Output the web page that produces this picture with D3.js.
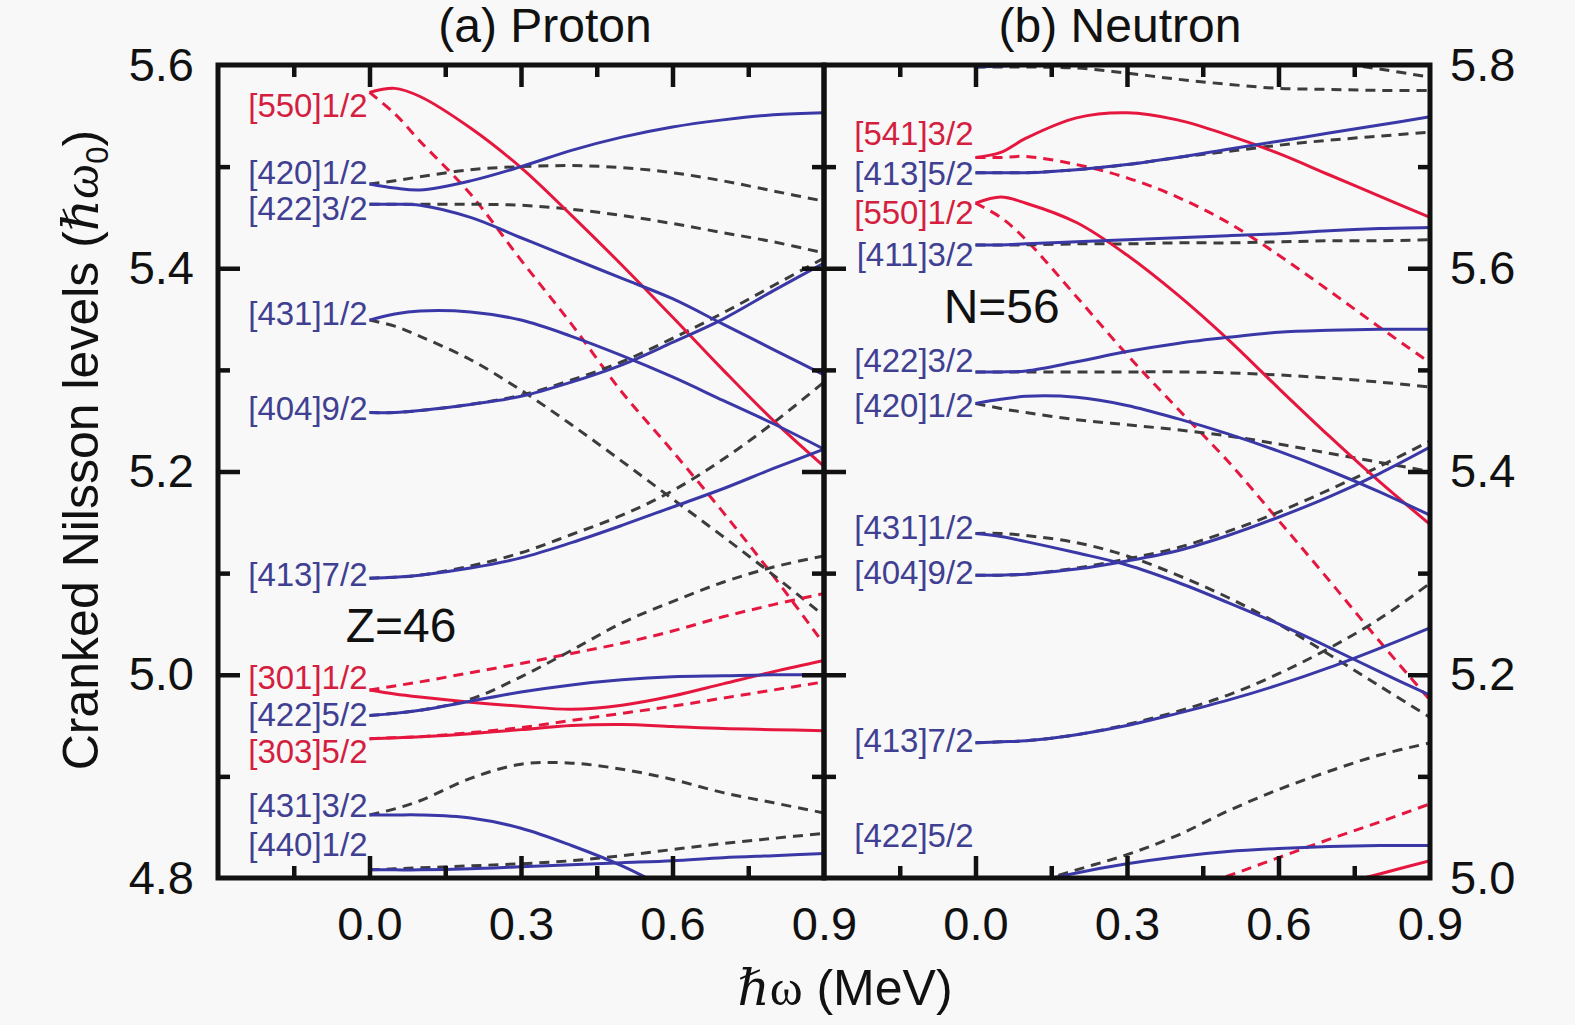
<!DOCTYPE html>
<html>
<head>
<meta charset="utf-8">
<script src="https://cdn.jsdelivr.net/npm/d3@7"></script>
<style>
  body { margin: 0; background: #f8f8f8; }
  svg { display: block; font-family: "Liberation Sans", Arial, sans-serif; }
</style>
</head>
<body>
<svg id="chart" width="1575" height="1025"></svg>
<script>
// rotational frequency grid (MeV)
const omega = [0, 0.05, 0.1, 0.2, 0.3, 0.4, 0.5, 0.6, 0.7, 0.8, 0.9];
const xTickLabels = [0, 0.3, 0.6, 0.9];
const protonYTicks = [4.8, 5.0, 5.2, 5.4, 5.6];
const neutronYTicks = [5.0, 5.2, 5.4, 5.6, 5.8];

// proton levels (a)
const protonLabels = ["[550]1/2", "[420]1/2", "[422]3/2", "[431]1/2", "[404]9/2", "[413]7/2",
                      "[301]1/2", "[422]5/2", "[303]5/2", "[431]3/2", "[440]1/2"];
const protonParity = ["-", "+", "+", "+", "+", "+", "-", "+", "-", "+", "+"];
const protonLabelE = [5.561, 5.495, 5.459, 5.356, 5.262, 5.099, 4.998, 4.961, 4.925, 4.872, 4.833];
const protonSolid = [
  [5.573, 5.577, 5.569, 5.538, 5.499, 5.452, 5.403, 5.352, 5.300, 5.250, 5.205],
  [5.483, 5.479, 5.477, 5.486, 5.500, 5.516, 5.529, 5.539, 5.546, 5.551, 5.553],
  [5.463, 5.463, 5.462, 5.450, 5.430, 5.410, 5.390, 5.370, 5.345, 5.320, 5.295],
  [5.349, 5.355, 5.358, 5.357, 5.349, 5.333, 5.314, 5.293, 5.270, 5.247, 5.222],
  [5.258, 5.258, 5.260, 5.266, 5.274, 5.288, 5.305, 5.327, 5.350, 5.378, 5.405],
  [5.095, 5.096, 5.098, 5.105, 5.115, 5.130, 5.147, 5.165, 5.183, 5.203, 5.222],
  [4.985, 4.981, 4.978, 4.973, 4.969, 4.966, 4.970, 4.979, 4.991, 5.003, 5.014],
  [4.960, 4.962, 4.965, 4.974, 4.983, 4.990, 4.995, 4.998, 4.999, 5.000, 5.000],
  [4.937, 4.938, 4.939, 4.942, 4.946, 4.950, 4.951, 4.949, 4.947, 4.946, 4.945],
  [4.862, 4.862, 4.862, 4.859, 4.849, 4.832, 4.812, 4.787, 4.760, 4.730, 4.700],
  [4.808, 4.808, 4.808, 4.809, 4.811, 4.813, 4.815, 4.817, 4.820, 4.822, 4.824]
];
const protonDashed = [
  [5.573, 5.552, 5.525, 5.473, 5.408, 5.345, 5.278, 5.220, 5.160, 5.097, 5.030],
  [5.483, 5.486, 5.490, 5.497, 5.500, 5.501, 5.499, 5.494, 5.486, 5.476, 5.466],
  [5.463, 5.463, 5.463, 5.463, 5.462, 5.458, 5.452, 5.444, 5.435, 5.426, 5.415],
  [5.349, 5.343, 5.333, 5.310, 5.280, 5.246, 5.210, 5.173, 5.136, 5.098, 5.058],
  [5.258, 5.258, 5.260, 5.266, 5.275, 5.290, 5.308, 5.331, 5.356, 5.383, 5.410],
  [5.095, 5.096, 5.098, 5.107, 5.120, 5.138, 5.157, 5.181, 5.212, 5.248, 5.288],
  [4.985, 4.989, 4.993, 5.002, 5.011, 5.021, 5.031, 5.043, 5.057, 5.069, 5.080],
  [4.960, 4.962, 4.965, 4.976, 4.998, 5.024, 5.051, 5.072, 5.091, 5.106, 5.117],
  [4.937, 4.938, 4.939, 4.943, 4.948, 4.955, 4.962, 4.969, 4.977, 4.985, 4.993],
  [4.862, 4.868, 4.876, 4.898, 4.912, 4.913, 4.907, 4.897, 4.884, 4.874, 4.864],
  [4.808, 4.809, 4.810, 4.812, 4.814, 4.817, 4.822, 4.828, 4.834, 4.839, 4.844]
];

// neutron levels (b)
const neutronLabels = ["", "", "[541]3/2", "[413]5/2", "[550]1/2", "[411]3/2", "[422]3/2",
                       "[420]1/2", "[431]1/2", "[404]9/2", "[413]7/2", "[422]5/2", ""];
const neutronParity = ["+", "+", "-", "+", "-", "+", "+", "+", "+", "+", "+", "+", "-"];
const neutronLabelE = [null, null, 5.733, 5.694, 5.655, 5.614, 5.510, 5.465, 5.345, 5.301, 5.136, 5.042, null];
const neutronSolid = [
  [5.798, 5.799, 5.800, 5.805, null, null, null, null, null, null, null],
  [null, null, null, null, null, null, null, null, null, null, null],
  [5.709, 5.714, 5.728, 5.748, 5.753, 5.746, 5.731, 5.713, 5.692, 5.671, 5.650],
  [5.694, 5.694, 5.694, 5.697, 5.702, 5.709, 5.717, 5.725, 5.733, 5.741, 5.749],
  [5.664, 5.670, 5.664, 5.645, 5.613, 5.574, 5.530, 5.482, 5.435, 5.390, 5.348],
  [5.623, 5.623, 5.624, 5.626, 5.628, 5.630, 5.632, 5.634, 5.637, 5.639, 5.640],
  [5.498, 5.498, 5.499, 5.508, 5.518, 5.526, 5.532, 5.537, 5.539, 5.540, 5.540],
  [5.467, 5.471, 5.474, 5.473, 5.465, 5.452, 5.437, 5.420, 5.401, 5.380, 5.357],
  [5.339, 5.336, 5.331, 5.320, 5.308, 5.291, 5.271, 5.250, 5.227, 5.203, 5.180],
  [5.298, 5.298, 5.299, 5.304, 5.312, 5.322, 5.337, 5.355, 5.375, 5.398, 5.424],
  [5.133, 5.134, 5.135, 5.141, 5.150, 5.162, 5.175, 5.190, 5.207, 5.226, 5.246],
  [4.985, 4.988, 4.994, 5.005, 5.014, 5.021, 5.026, 5.029, 5.031, 5.032, 5.032],
  [null, null, null, null, null, null, null, null, 4.991, 5.004, 5.017]
];
const neutronDashed = [
  [5.798, 5.798, 5.798, 5.797, 5.792, 5.786, 5.781, 5.777, 5.776, 5.775, 5.775],
  [null, null, null, null, null, null, null, null, 5.803, 5.796, 5.788],
  [5.709, 5.709, 5.710, 5.702, 5.689, 5.670, 5.645, 5.613, 5.578, 5.542, 5.507],
  [5.694, 5.694, 5.694, 5.697, 5.702, 5.709, 5.715, 5.721, 5.726, 5.730, 5.734],
  [5.664, 5.650, 5.628, 5.572, 5.515, 5.462, 5.410, 5.352, 5.293, 5.233, 5.175],
  [5.623, 5.623, 5.623, 5.624, 5.624, 5.625, 5.625, 5.626, 5.627, 5.627, 5.628],
  [5.498, 5.498, 5.498, 5.498, 5.498, 5.498, 5.497, 5.495, 5.492, 5.488, 5.483],
  [5.467, 5.462, 5.458, 5.451, 5.446, 5.441, 5.435, 5.427, 5.418, 5.409, 5.400],
  [5.339, 5.339, 5.337, 5.330, 5.317, 5.298, 5.276, 5.250, 5.220, 5.189, 5.158],
  [5.298, 5.298, 5.299, 5.305, 5.314, 5.325, 5.341, 5.360, 5.382, 5.405, 5.430],
  [5.133, 5.134, 5.135, 5.141, 5.151, 5.164, 5.180, 5.201, 5.226, 5.255, 5.290],
  [4.985, 4.988, 4.993, 5.008, 5.023, 5.042, 5.066, 5.087, 5.105, 5.121, 5.133],
  [null, null, null, null, null, 4.985, 5.002, 5.020, 5.038, 5.055, 5.073]
];

// colours
const blue = "#3a38a6", red = "#e5173f", grey = "#3c3c3c";
const blueText = "#404092", redText = "#d41f40";

const plotTop = 65, plotBottom = 878;
const svg = d3.select("#chart");
svg.append("rect").attr("width", 1575).attr("height", 1025).attr("fill", "#f8f8f8");

function drawPanel(p) {
  const x = d3.scaleLinear().domain([-0.3, 0.9]).range(p.xRange);
  const y = d3.scaleLinear().domain(p.yDomain).range([plotBottom, plotTop]);
  const g = svg.append("g");

  g.append("clipPath").attr("id", "clip" + p.id)
    .append("rect")
    .attr("x", p.xRange[0]).attr("y", plotTop)
    .attr("width", p.xRange[1] - p.xRange[0]).attr("height", plotBottom - plotTop);

  const line = d3.line()
    .defined(function (d) { return d[1] != null; })
    .x(function (d) { return x(d[0]); })
    .y(function (d) { return y(d[1]); })
    .curve(d3.curveCatmullRom.alpha(0.5));

  const curves = g.append("g").attr("clip-path", "url(#clip" + p.id + ")");
  p.dashed.forEach(function (vals, i) {
    curves.append("path")
      .attr("d", line(omega.map(function (w, k) { return [w, vals[k]]; })))
      .attr("fill", "none")
      .attr("stroke", p.parity[i] === "-" ? red : grey)
      .attr("stroke-width", 3)
      .attr("stroke-dasharray", "10,7");
  });
  p.solid.forEach(function (vals, i) {
    curves.append("path")
      .attr("d", line(omega.map(function (w, k) { return [w, vals[k]]; })))
      .attr("fill", "none")
      .attr("stroke", p.parity[i] === "-" ? red : blue)
      .attr("stroke-width", 3);
  });

  // level labels
  p.labels.forEach(function (lab, i) {
    if (!lab) return;
    g.append("text")
      .attr("x", x(0) - 2)
      .attr("y", y(p.labelE[i]))
      .attr("dy", "0.36em")
      .attr("text-anchor", "end")
      .attr("font-size", 33)
      .attr("fill", p.parity[i] === "-" ? redText : blueText)
      .text(lab);
  });

  // inward ticks on all four sides
  const majorX = [0, 0.3, 0.6], minorX = [-0.15, 0.15, 0.45, 0.75];
  const yMajor = p.yTicks.slice(1, -1);
  const yMinor = p.yTicks.slice(0, -1).map(function (v) { return +(v + 0.1).toFixed(1); });
  const tickSets = [
    [d3.axisBottom(x), plotBottom, null, majorX, minorX],
    [d3.axisTop(x), plotTop, null, majorX, minorX],
    [d3.axisLeft(y), null, p.xRange[0], yMajor, yMinor],
    [d3.axisRight(y), null, p.xRange[1], yMajor, yMinor]
  ];
  tickSets.forEach(function (t) {
    [[t[3], 22], [t[4], 12]].forEach(function (s) {
      const ax = t[0].tickValues(s[0]).tickSizeInner(-s[1]).tickSizeOuter(0).tickFormat("");
      const a = g.append("g")
        .attr("transform", t[1] != null ? "translate(0," + t[1] + ")" : "translate(" + t[2] + ",0)")
        .call(ax);
      a.select(".domain").remove();
      a.selectAll("line").attr("stroke", "#111").attr("stroke-width", 4.5);
    });
  });

  // frame
  g.append("rect")
    .attr("x", p.xRange[0]).attr("y", plotTop)
    .attr("width", p.xRange[1] - p.xRange[0]).attr("height", plotBottom - plotTop)
    .attr("fill", "none").attr("stroke", "#111").attr("stroke-width", 5);

  // x tick labels
  const xa = g.append("g").attr("transform", "translate(0," + plotBottom + ")")
    .call(d3.axisBottom(x).tickValues(xTickLabels).tickSize(0).tickPadding(29).tickFormat(d3.format(".1f")));
  xa.select(".domain").remove();
  xa.selectAll("text").attr("font-size", 47).attr("fill", "#111")
    .attr("font-family", "Liberation Sans, Arial, sans-serif");

  // y tick labels
  const ya = g.append("g").attr("transform", "translate(" + (p.side === "left" ? p.xRange[0] : p.xRange[1]) + ",0)")
    .call((p.side === "left" ? d3.axisLeft(y) : d3.axisRight(y))
      .tickValues(p.yTicks).tickSize(0).tickPadding(p.side === "left" ? 24 : 20).tickFormat(d3.format(".1f")));
  ya.select(".domain").remove();
  ya.selectAll("text").attr("font-size", 47).attr("fill", "#111")
    .attr("font-family", "Liberation Sans, Arial, sans-serif");

  // panel title and nucleon number
  g.append("text")
    .attr("x", p.titleX).attr("y", 42)
    .attr("text-anchor", "middle").attr("font-size", 48).attr("fill", "#111")
    .text(p.title);
  g.append("text")
    .attr("x", x(p.tagAt[0])).attr("y", y(p.tagAt[1]))
    .attr("font-size", 48).attr("fill", "#111")
    .text(p.tag);
}

drawPanel({
  id: "a", xRange: [218, 824], yDomain: [4.8, 5.6], yTicks: protonYTicks, side: "left",
  labels: protonLabels, parity: protonParity, labelE: protonLabelE,
  solid: protonSolid, dashed: protonDashed,
  title: "(a) Proton", titleX: 545, tag: "Z=46", tagAt: [-0.047, 5.032]
});
drawPanel({
  id: "b", xRange: [824, 1430], yDomain: [5.0, 5.8], yTicks: neutronYTicks, side: "right",
  labels: neutronLabels, parity: neutronParity, labelE: neutronLabelE,
  solid: neutronSolid, dashed: neutronDashed,
  title: "(b) Neutron", titleX: 1120, tag: "N=56", tagAt: [-0.063, 5.546]
});

// axis titles
const xt = svg.append("text")
  .attr("x", 845).attr("y", 1005)
  .attr("text-anchor", "middle").attr("font-size", 50).attr("fill", "#111");
xt.append("tspan").attr("font-family", "DejaVu Serif").attr("font-style", "italic").text("ℏ");
xt.append("tspan").attr("font-family", "Liberation Serif").text("ω");
xt.append("tspan").text(" (MeV)");

const yt = svg.append("text")
  .attr("transform", "translate(98,450) rotate(-90)")
  .attr("text-anchor", "middle").attr("font-size", 50).attr("fill", "#111");
yt.append("tspan").text("Cranked Nilsson levels (");
yt.append("tspan").attr("font-family", "DejaVu Serif").attr("font-style", "italic").text("ℏ");
yt.append("tspan").attr("font-family", "Liberation Serif").attr("font-style", "italic").text("ω");
yt.append("tspan").attr("font-size", 31).attr("dy", 10).text("0");
yt.append("tspan").attr("dy", -10).text(")");
</script>
</body>
</html>
